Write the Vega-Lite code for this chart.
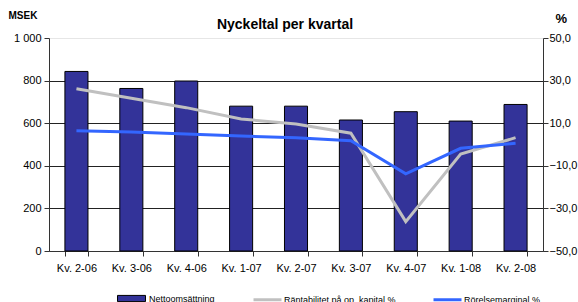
{
  "$schema": "https://vega.github.io/schema/vega-lite/v6.json",
  "width": 494,
  "height": 213,
  "autosize": "none",
  "padding": {"left": 49, "top": 38, "right": 35, "bottom": 51},
  "background": "white",
  "config": {
    "font": "Liberation Sans",
    "view": {"stroke": null},
    "axis": {"labelFont": "Liberation Sans", "labelFontSize": 11, "labelColor": "#000", "domainColor": "#333", "tickColor": "#333", "tickSize": 5},
    "legend": {"labelFont": "Liberation Sans", "labelFontSize": 9, "labelColor": "#000"}
  },
  "title": {"text": "Nyckeltal per kvartal", "fontSize": 14, "fontWeight": "bold", "font": "Liberation Sans", "offset": -22, "anchor": "middle", "dx": -11, "color": "#000"},
  "data": {
    "values": [
      {"q": "Kv. 2-06", "netto": 843, "rant": 26.2, "ror": 6.5},
      {"q": "Kv. 3-06", "netto": 763, "rant": 21.7, "ror": 5.9},
      {"q": "Kv. 4-06", "netto": 798, "rant": 17.3, "ror": 4.9},
      {"q": "Kv. 1-07", "netto": 680, "rant": 12.0, "ror": 4.0},
      {"q": "Kv. 2-07", "netto": 680, "rant": 9.6, "ror": 3.2},
      {"q": "Kv. 3-07", "netto": 615, "rant": 5.3, "ror": 1.8},
      {"q": "Kv. 4-07", "netto": 654, "rant": -36.2, "ror": -13.8},
      {"q": "Kv. 1-08", "netto": 610, "rant": -4.5, "ror": -1.8},
      {"q": "Kv. 2-08", "netto": 688, "rant": 3.2, "ror": 0.6}
    ]
  },
  "encoding": {
    "x": {
      "field": "q", "type": "ordinal", "sort": null,
      "scale": {"paddingInner": 0.58, "paddingOuter": 0.29},
      "axis": {"title": null, "labelAngle": 0, "tickBand": "extent", "labelPadding": 6, "grid": false, "domainColor": "#333"}
    }
  },
  "layer": [
    {
      "mark": {"type": "bar", "stroke": "#000", "strokeWidth": 1},
      "encoding": {
        "y": {
          "field": "netto", "type": "quantitative",
          "scale": {"domain": [0, 1000], "nice": false},
          "axis": {
            "values": [0, 200, 400, 600, 800, 1000],
            "labelExpr": "datum.value === 1000 ? '1 000' : datum.label",
            "grid": true,
            "gridColor": {"condition": {"test": "datum.value === 1000", "value": "#e6e6e6"}, "value": "#222"},
            "gridOpacity": 1,
            "labelPadding": 3,
            "title": "MSEK", "titleAngle": 0, "titleX": -41, "titleY": -23, "titleAlign": "left", "titleBaseline": "middle",
            "titleFontSize": 10, "titleFontWeight": "bold", "titleColor": "#000", "titleFont": "Liberation Sans"
          }
        },
        "fill": {
          "datum": "Nettoomsättning", "type": "nominal",
          "scale": {"domain": ["Nettoomsättning"], "range": ["#333399"]},
          "legend": {
            "title": null, "orient": "none", "direction": "horizontal", "legendX": 68, "legendY": 246,
            "labelOffset": 3,
            "symbolType": "M-1,-0.22H1V0.22H-1Z", "symbolSize": 784,
            "symbolStrokeColor": "#000", "symbolStrokeWidth": 1, "symbolOpacity": 1
          }
        }
      }
    },
    {
      "encoding": {
        "y": {
          "type": "quantitative",
          "scale": {"domain": [-50, 50], "nice": false},
          "axis": {
            "orient": "right",
            "values": [-50, -30, -10, 10, 30, 50],
            "labelExpr": "replace(format(datum.value, '.1f'), '.', ',')",
            "grid": false,
            "labelPadding": 1,
            "title": "%", "titleAngle": 0, "titleX": 12, "titleY": -20, "titleAlign": "left", "titleBaseline": "middle",
            "titleFontSize": 13, "titleFontWeight": "bold", "titleColor": "#000", "titleFont": "Liberation Sans"
          }
        }
      },
      "layer": [
        {
          "mark": {"type": "line", "strokeWidth": 3},
          "encoding": {
            "y": {"field": "rant", "type": "quantitative"},
            "stroke": {
              "datum": "Räntabilitet på op. kapital %", "type": "nominal",
              "scale": {"domain": ["Räntabilitet på op. kapital %", "Rörelsemarginal %"], "range": ["#C0C0C0", "#3366FF"]},
              "legend": {
                "title": null, "orient": "none", "direction": "horizontal", "legendX": 203, "legendY": 246,
                "labelOffset": 1, "columnPadding": 31,
                "symbolType": "stroke", "symbolSize": 784, "symbolStrokeWidth": 3, "symbolOpacity": 1
              }
            }
          }
        },
        {
          "mark": {"type": "line", "strokeWidth": 3},
          "encoding": {
            "y": {"field": "ror", "type": "quantitative"},
            "stroke": {"datum": "Rörelsemarginal %", "type": "nominal"}
          }
        }
      ]
    }
  ],
  "resolve": {"scale": {"y": "independent"}}
}
